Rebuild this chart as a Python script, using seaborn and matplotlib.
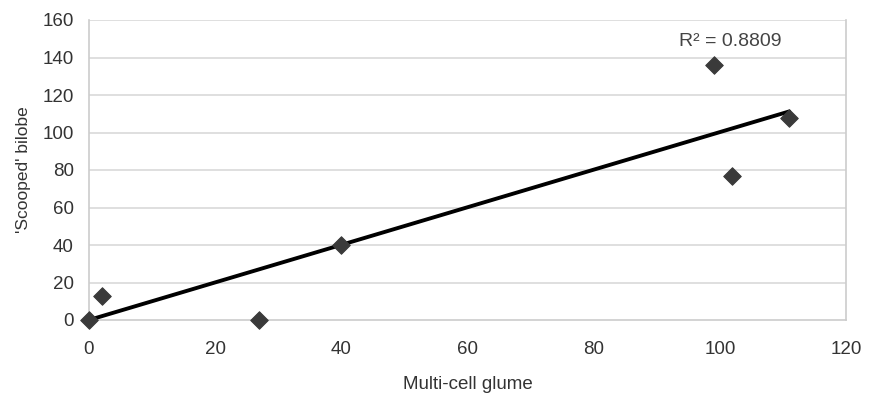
import numpy as np
import pandas as pd
import matplotlib
matplotlib.use("Agg")
import matplotlib.pyplot as plt
import seaborn as sns

multi_cell_glume = [0, 2, 27, 40, 99, 102, 111]
scooped_bilobe = [0, 13, 0, 40, 136, 77, 108]
r2_label = "R\u00b2 = 0.8809"
x_ticks = [0, 20, 40, 60, 80, 100, 120]
y_ticks = [0, 20, 40, 60, 80, 100, 120, 140, 160]

df = pd.DataFrame({"x": multi_cell_glume, "y": scooped_bilobe})

# linear trend through origin
xa = np.array(multi_cell_glume, float)
ya = np.array(scooped_bilobe, float)
slope = (xa * ya).sum() / (xa * xa).sum()
trend = pd.DataFrame({"x": [0, xa.max()], "y": [0, slope * xa.max()]})

sns.set_theme(style="white")
plt.rcParams["font.family"] = ["Liberation Sans", "DejaVu Sans"]

fig = plt.figure(figsize=(8.76, 3.95), dpi=100)
ax = fig.add_axes([89 / 876, 75 / 395, 757 / 876, 300 / 395])

for yv in y_ticks[1:]:
    ax.axhline(yv, color="#d9d9d9", lw=1.2, zorder=0)

sns.lineplot(data=trend, x="x", y="y", ax=ax, color="black", lw=2.8, zorder=3)
sns.scatterplot(data=df, x="x", y="y", ax=ax, marker="D", s=80,
                color="#3a3a3a", edgecolor="#3a3a3a", zorder=4, clip_on=False)

ax.set_xlim(0, 120)
ax.set_ylim(0, 160)
ax.set_xticks(x_ticks)
ax.set_yticks(y_ticks)
ax.tick_params(axis="both", labelsize=13.5, colors="#333333", length=5,
               width=1, color="#bbbbbb", direction="out")
ax.tick_params(axis="y", pad=6)
ax.tick_params(axis="x", pad=10)
for s in ["left", "bottom", "right"]:
    ax.spines[s].set_color("#cccccc")
    ax.spines[s].set_linewidth(1.2)
ax.spines["top"].set_visible(False)
ax.set_xlabel("Multi-cell glume", fontsize=13.5, color="#333333", labelpad=13)
ax.set_ylabel("'Scooped' bilobe", fontsize=12.5, color="#333333", labelpad=8)
ax.text(93.5, 148.5, r2_label, fontsize=14, color="#444444", va="center", ha="left")

fig.savefig("out.png", dpi=100)
